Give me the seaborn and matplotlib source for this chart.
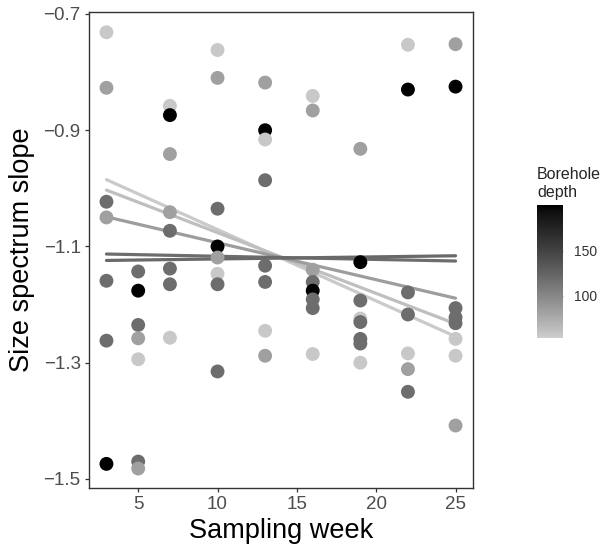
import numpy as np
import pandas as pd
import matplotlib
matplotlib.use("Agg")
import matplotlib.pyplot as plt
from matplotlib.colors import ListedColormap, Normalize
import seaborn as sns

# depth classes read from the point shades
LIGHT, MED, DARK, BLACK = 56, 83, 118, 201

weeks = [3] * 7 + [5] * 7 + [7] * 8 + [10] * 8 + [13] * 8 + [16] * 8 + [19] * 8 + [22] * 7 + [25] * 8
slopes = [
    -0.7315, -0.827, -1.023, -1.050, -1.159, -1.262, -1.474,
    -1.143, -1.176, -1.235, -1.258, -1.294, -1.470, -1.482,
    -0.858, -0.874, -0.941, -1.041, -1.073, -1.138, -1.165, -1.257,
    -0.762, -0.810, -1.035, -1.100, -1.119, -1.147, -1.165, -1.315,
    -0.818, -0.900, -0.916, -0.986, -1.133, -1.161, -1.245, -1.288,
    -0.841, -0.866, -1.140, -1.161, -1.176, -1.191, -1.206, -1.285,
    -0.932, -1.127, -1.193, -1.224, -1.230, -1.259, -1.267, -1.300,
    -0.753, -0.830, -1.179, -1.217, -1.284, -1.311, -1.350,
    -0.752, -0.825, -1.206, -1.222, -1.232, -1.259, -1.288, -1.408,
]
depths = [
    LIGHT, MED, DARK, MED, DARK, DARK, BLACK,
    DARK, BLACK, DARK, MED, LIGHT, DARK, MED,
    LIGHT, BLACK, MED, MED, DARK, DARK, DARK, LIGHT,
    LIGHT, MED, DARK, BLACK, MED, LIGHT, DARK, DARK,
    MED, BLACK, LIGHT, DARK, DARK, DARK, LIGHT, MED,
    LIGHT, MED, MED, DARK, BLACK, DARK, DARK, LIGHT,
    MED, BLACK, DARK, LIGHT, DARK, DARK, DARK, LIGHT,
    LIGHT, BLACK, DARK, DARK, LIGHT, MED, DARK,
    MED, BLACK, DARK, DARK, DARK, LIGHT, LIGHT, MED,
]

# fitted lines (start at week 3, end at week 25)
line_depths = [55, 62, 85, 118, 121]
line_start = [-0.985, -1.003, -1.049, -1.113, -1.124]
line_end = [-1.255, -1.233, -1.189, -1.125, -1.116]
line_weeks = [3, 25]

depth_lim = (53, 201)
cbar_ticks = [100, 150]


def lab_gray(L):
    # grey with CIE lightness L -> sRGB level
    Y = ((L + 16) / 116) ** 3 if L > 8 else L / 903.3
    return 1.055 * Y ** (1 / 2.4) - 0.055 if Y > 0.0031308 else 12.92 * Y


levels = [lab_gray(82.3 * (1 - t)) for t in np.linspace(0, 1, 256)]
cmap = ListedColormap([(g, g, g) for g in levels])
norm = Normalize(*depth_lim)

pts = pd.DataFrame({"week": weeks, "slope": slopes, "depth": depths})
lines = pd.DataFrame({
    "week": line_weeks * len(line_depths),
    "slope": [v for s, e in zip(line_start, line_end) for v in (s, e)],
    "depth": [d for d in line_depths for _ in line_weeks],
})

sns.set_theme(style="white")
plt.rcParams["font.family"] = ["Liberation Sans", "DejaVu Sans"]

fig = plt.figure(figsize=(6.08, 5.45), dpi=100)
ax = fig.add_axes([89 / 608, 1 - 488 / 545, 384 / 608, 476 / 545])

sns.lineplot(data=lines, x="week", y="slope", hue="depth", units="depth", estimator=None,
             palette=cmap, hue_norm=norm, linewidth=2.3, legend=False, ax=ax, zorder=2)
sns.scatterplot(data=pts, x="week", y="slope", hue="depth", palette=cmap, hue_norm=norm,
                s=100, linewidth=0, legend=False, ax=ax, zorder=3)

ax.set_xlim(1.9, 26.1)
ax.set_ylim(-1.5155, -0.6966)
ax.set_xticks([5, 10, 15, 20, 25])
ax.set_yticks([-0.7, -0.9, -1.1, -1.3, -1.5])
ax.set_yticklabels(["\u22120.7", "\u22120.9", "\u22121.1", "\u22121.3", "\u22121.5"])
ax.tick_params(axis="both", length=3, width=0.9, color="#333333", labelsize=13.5,
               labelcolor="#4d4d4d", pad=3, left=True, bottom=True)
for sp in ax.spines.values():
    sp.set_color("#333333")
    sp.set_linewidth(1.0)
ax.set_xlabel("Sampling week", fontsize=19.5, color="black", labelpad=3)
ax.set_ylabel("Size spectrum slope", fontsize=19.5, color="black", labelpad=6)

cax = fig.add_axes([537 / 608, 1 - 338 / 545, 26 / 608, 133 / 545])
sm = plt.cm.ScalarMappable(norm=norm, cmap=cmap)
cbar = fig.colorbar(sm, cax=cax, ticks=cbar_ticks)
cbar.outline.set_visible(False)
cax.tick_params(axis="y", left=True, right=True, direction="in", length=5, width=1,
                color="#aaaaaa", labelsize=10, labelcolor="#333333", pad=8)
fig.text(537 / 608, 1 - 200 / 545, "Borehole\ndepth", fontsize=11.5, ha="left", va="bottom",
         linespacing=1.25)

fig.savefig("out.png", dpi=100)
